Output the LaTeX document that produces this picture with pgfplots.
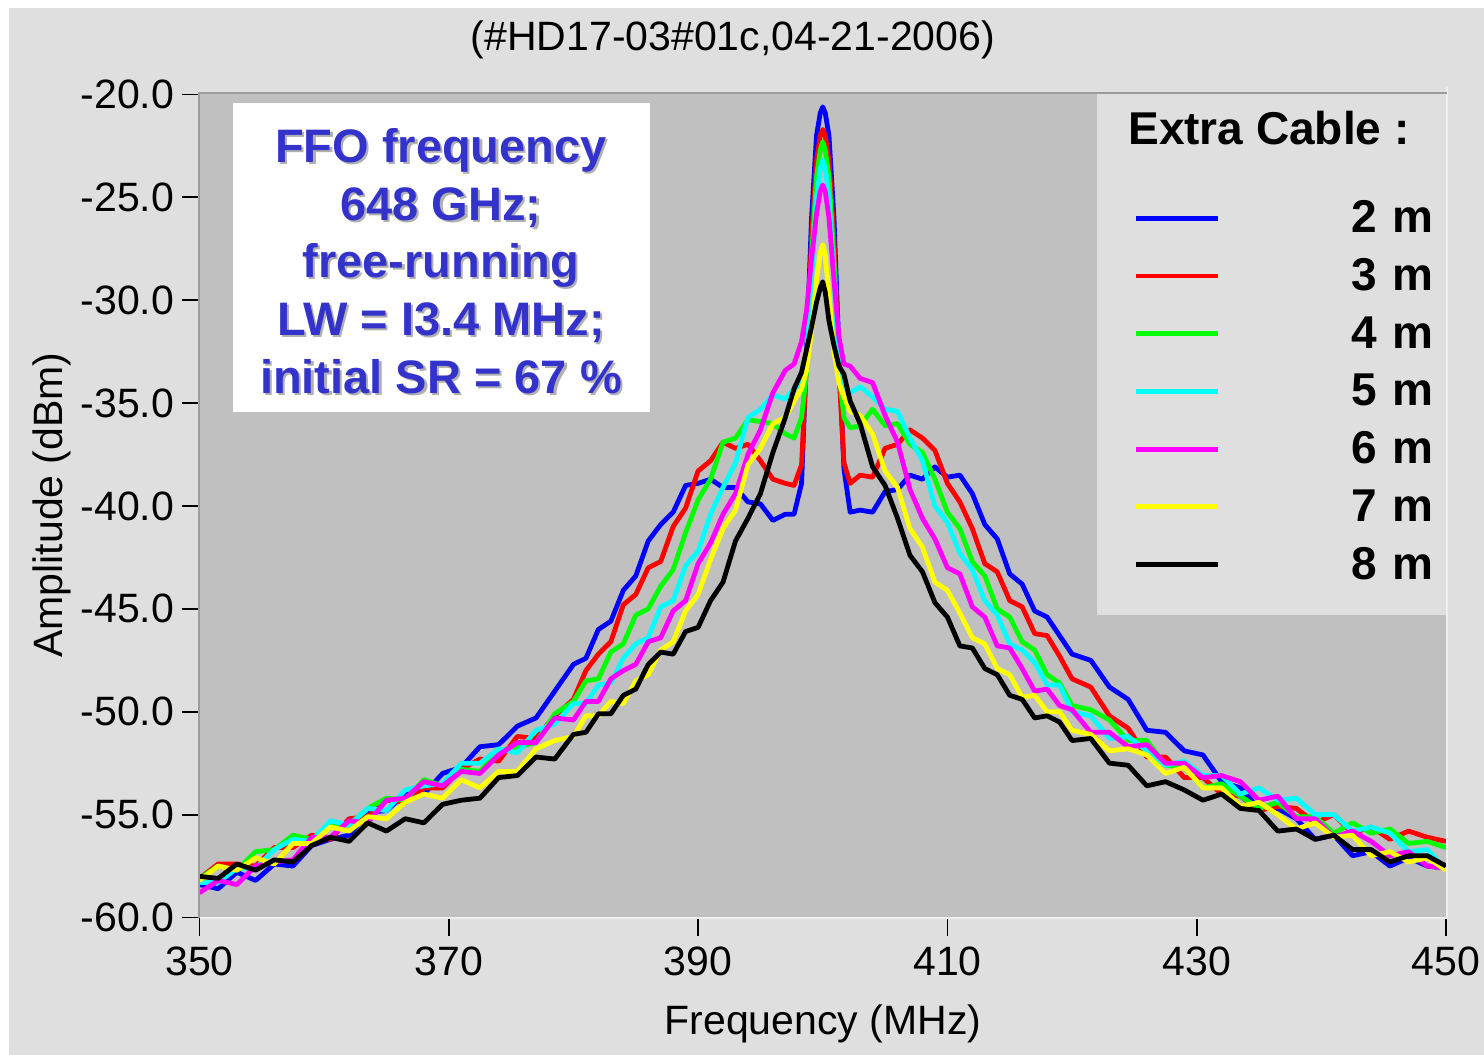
\documentclass[border=0pt]{standalone}
\usepackage{fontspec}
\setmainfont{Liberation Sans}
\usepackage{pgfplots}
\pgfplotsset{compat=1.18}
\definecolor{outerbg}{HTML}{DFDFDF}
\definecolor{plotbg}{HTML}{C0C0C0}
\definecolor{txtblue}{HTML}{3333CC}
\definecolor{shadowgray}{HTML}{B0B0B0}
\definecolor{framedark}{HTML}{9C9C9C}
\definecolor{framelight}{HTML}{EEEEEE}
\definecolor{cBlue}{HTML}{0000FF}
\definecolor{cRed}{HTML}{FF0000}
\definecolor{cGreen}{HTML}{00FF00}
\definecolor{cCyan}{HTML}{00FFFF}
\definecolor{cMagenta}{HTML}{FF00FF}
\definecolor{cYellow}{HTML}{FFFF00}
\definecolor{cBlack}{HTML}{000000}
\begin{document}
\begin{tikzpicture}[x=1pt,y=1pt]
\fill[white] (0,0) rectangle (742,527.5);
\fill[outerbg] (4.5,0) rectangle (742,523.5);
\begin{axis}[
  at={(99.75pt,68.75pt)}, anchor=south west, scale only axis,
  width=623.25pt, height=411.5pt,
  xmin=350, xmax=450, ymin=-60, ymax=-20,
  clip=false,
  axis background/.style={fill=plotbg},
  axis line style={draw=none},
  xtick={350,370,...,450}, ytick={-60,-55,...,-20},
  xtick pos=bottom, ytick pos=left,
  tick align=outside,
  major tick length=9pt,
  tick style={black, line width=0.9pt},
  /pgf/number format/assume math mode=true,
  yticklabel={\pgfmathprintnumber[fixed,fixed zerofill,precision=1]{\tick}},
  xticklabel style={anchor=center, inner sep=0pt, yshift=-13pt, font=\fontsize{20.5}{24}\selectfont},
  yticklabel style={anchor=east, inner sep=0pt, xshift=-3.5pt, font=\fontsize{20.5}{24}\selectfont},
  every axis plot/.append style={line width=2.4pt, line join=round},
  legend style={at={(0.7489,0.885)}, anchor=north west, draw=none, fill=none, inner sep=0pt, row sep=0pt,
    font=\fontsize{23}{23}\selectfont\bfseries,
    nodes={inner sep=0pt, minimum height=28.85pt, text width=106.5pt, align=right}},
  legend cell align=right,
  legend image code/.code={\draw[#1] (0pt,0pt) -- (41pt,0pt);},
]
\fill[outerbg] (rel axis cs:0.7200,0.3678) rectangle (rel axis cs:1.0008,1.0085);
\addplot[cBlue] coordinates {(350,-58.4) (351.5,-58.6) (353,-57.8) (354.5,-58.2) (356,-57.4) (357.5,-57.5) (359,-56.5) (360.5,-56.2) (362,-56.0) (363.5,-54.9) (365,-54.8) (366.5,-54.0) (368,-54.0) (369.5,-53.0) (371,-52.7) (372.5,-51.7) (374,-51.6) (375.5,-50.7) (377,-50.3) (378.5,-49.0) (380,-47.7) (381,-47.4) (382,-46.0) (383,-45.6) (384,-44.1) (385,-43.4) (386,-41.7) (387,-40.9) (388,-40.3) (389,-39.0) (390,-38.9) (391,-38.7) (392,-39.1) (393,-39.1) (394,-39.8) (395,-39.9) (396,-40.7) (397,-40.4) (397.7,-40.4) (398.3,-38.9) (398.7,-32.5) (399.1,-26.0) (399.5,-22.0) (399.8,-20.9) (400,-20.6) (400.2,-20.9) (400.5,-22.0) (400.9,-26.0) (401.3,-32.5) (401.7,-38.2) (402.2,-40.3) (403,-40.2) (404,-40.3) (405,-39.3) (406,-39.2) (407,-38.5) (408,-38.7) (409,-38.1) (410,-38.6) (411,-38.5) (412,-39.4) (413,-40.9) (414,-41.6) (415,-43.3) (416,-43.8) (417,-45.1) (418,-45.4) (419,-46.3) (420,-47.2) (421.5,-47.5) (423,-48.8) (424.5,-49.4) (426,-50.9) (427.5,-51.0) (429,-51.9) (430.5,-52.1) (432,-53.4) (433.5,-53.7) (435,-54.7) (436.5,-54.7) (438,-55.2) (439.5,-56.2) (441,-56.0) (442.5,-57.0) (444,-56.8) (445.5,-57.5) (447,-57.1) (448.5,-57.5) (450,-57.6)};
\addlegendentry{2 m}
\addplot[cRed] coordinates {(350,-58.1) (351.5,-57.4) (353,-57.4) (354.5,-57.5) (356,-56.6) (357.5,-56.6) (359,-56.0) (360.5,-56.2) (362,-55.2) (363.5,-55.1) (365,-54.3) (366.5,-54.4) (368,-53.7) (369.5,-53.7) (371,-52.8) (372.5,-52.3) (374,-52.4) (375.5,-51.2) (377,-51.3) (378.5,-50.2) (380,-49.4) (381,-48.0) (382,-47.2) (383,-46.6) (384,-44.8) (385,-44.3) (386,-43.0) (387,-42.7) (388,-41.0) (389,-40.1) (390,-38.3) (391,-37.8) (392,-36.9) (393,-37.2) (394,-37.0) (395,-37.8) (396,-38.7) (397,-38.9) (397.7,-39.0) (398.3,-38.0) (398.7,-33.0) (399.1,-27.0) (399.5,-23.2) (399.8,-22.0) (400,-21.7) (400.2,-22.0) (400.5,-23.2) (400.9,-27.0) (401.3,-33.5) (401.7,-37.9) (402.2,-38.9) (403,-38.5) (404,-38.6) (405,-37.2) (406,-37.0) (407,-36.3) (408,-36.7) (409,-37.3) (410,-38.9) (411,-39.8) (412,-41.1) (413,-42.8) (414,-43.2) (415,-44.6) (416,-44.9) (417,-46.2) (418,-46.3) (419,-47.3) (420,-48.4) (421.5,-48.8) (423,-50.2) (424.5,-50.8) (426,-52.2) (427.5,-52.2) (429,-53.2) (430.5,-53.2) (432,-54.0) (433.5,-54.1) (435,-54.8) (436.5,-54.6) (438,-54.7) (439.5,-55.4) (441,-55.0) (442.5,-55.9) (444,-55.6) (445.5,-56.2) (447,-55.8) (448.5,-56.1) (450,-56.3)};
\addlegendentry{3 m}
\addplot[cGreen] coordinates {(350,-58.1) (351.5,-57.5) (353,-57.7) (354.5,-56.8) (356,-56.7) (357.5,-56.0) (359,-56.2) (360.5,-55.5) (362,-55.5) (363.5,-54.7) (365,-54.2) (366.5,-54.3) (368,-53.3) (369.5,-53.6) (371,-52.8) (372.5,-52.9) (374,-51.9) (375.5,-51.7) (377,-51.5) (378.5,-50.1) (380,-49.5) (381,-48.5) (382,-48.4) (383,-47.1) (384,-46.7) (385,-45.3) (386,-45.0) (387,-43.9) (388,-43.1) (389,-41.3) (390,-39.7) (391,-38.7) (392,-36.9) (393,-36.7) (394,-35.8) (395,-35.9) (396,-36.0) (397,-36.5) (397.7,-36.7) (398.3,-35.7) (398.7,-33.5) (399.1,-28.0) (399.5,-24.0) (399.8,-22.7) (400,-22.3) (400.2,-22.7) (400.5,-24.0) (400.9,-28.0) (401.3,-33.5) (401.7,-35.7) (402.2,-36.2) (403,-36.1) (404,-35.3) (405,-36.1) (406,-36.0) (407,-37.0) (408,-37.4) (409,-38.7) (410,-40.3) (411,-41.1) (412,-42.7) (413,-43.4) (414,-45.0) (415,-45.4) (416,-46.6) (417,-47.0) (418,-48.2) (419,-48.6) (420,-49.7) (421.5,-49.9) (423,-50.4) (424.5,-51.4) (426,-51.4) (427.5,-52.6) (429,-52.7) (430.5,-53.7) (432,-53.5) (433.5,-54.1) (435,-54.7) (436.5,-54.4) (438,-55.1) (439.5,-55.1) (441,-55.9) (442.5,-55.4) (444,-55.9) (445.5,-55.7) (447,-56.4) (448.5,-56.3) (450,-56.6)};
\addlegendentry{4 m}
\addplot[cCyan] coordinates {(350,-58.3) (351.5,-58.3) (353,-57.6) (354.5,-57.6) (356,-56.7) (357.5,-56.2) (359,-56.3) (360.5,-55.3) (362,-55.5) (363.5,-54.7) (365,-54.8) (366.5,-53.8) (368,-53.6) (369.5,-53.5) (371,-52.5) (372.5,-52.5) (374,-51.8) (375.5,-52.0) (377,-50.9) (378.5,-50.6) (380,-49.6) (381,-49.6) (382,-48.7) (383,-48.6) (384,-47.4) (385,-46.7) (386,-46.4) (387,-44.9) (388,-44.6) (389,-42.9) (390,-42.2) (391,-40.4) (392,-39.1) (393,-37.9) (394,-35.7) (395,-35.3) (396,-34.6) (397,-34.8) (397.7,-34.3) (398.3,-34.0) (398.7,-32.8) (399.1,-29.0) (399.5,-25.0) (399.8,-23.6) (400,-23.2) (400.2,-23.6) (400.5,-25.0) (400.9,-29.0) (401.3,-33.2) (401.7,-34.1) (402.2,-34.5) (403,-34.2) (404,-34.7) (405,-35.3) (406,-35.4) (407,-36.7) (408,-37.8) (409,-40.0) (410,-40.8) (411,-42.3) (412,-43.1) (413,-44.6) (414,-45.3) (415,-46.7) (416,-47.0) (417,-47.6) (418,-48.7) (419,-48.7) (420,-50.0) (421.5,-50.2) (423,-51.3) (424.5,-51.2) (426,-51.9) (427.5,-52.6) (429,-52.4) (430.5,-53.1) (432,-53.1) (433.5,-54.0) (435,-53.7) (436.5,-54.3) (438,-54.2) (439.5,-55.0) (441,-55.0) (442.5,-55.8) (444,-55.6) (445.5,-55.9) (447,-56.8) (448.5,-56.7) (450,-57.7)};
\addlegendentry{5 m}
\addplot[cMagenta] coordinates {(350,-58.8) (351.5,-58.2) (353,-58.4) (354.5,-57.5) (356,-57.3) (357.5,-57.2) (359,-56.1) (360.5,-56.1) (362,-55.3) (363.5,-55.4) (365,-54.3) (366.5,-54.2) (368,-53.4) (369.5,-53.6) (371,-52.9) (372.5,-53.0) (374,-52.1) (375.5,-51.5) (377,-51.5) (378.5,-50.3) (380,-50.4) (381,-49.5) (382,-49.5) (383,-48.4) (384,-48.0) (385,-47.7) (386,-46.6) (387,-46.4) (388,-45.1) (389,-44.6) (390,-42.8) (391,-41.8) (392,-40.4) (393,-39.4) (394,-37.5) (395,-36.3) (396,-34.5) (397,-33.4) (397.7,-33.1) (398.3,-32.0) (398.7,-30.5) (399.1,-28.0) (399.5,-25.8) (399.8,-24.7) (400,-24.4) (400.2,-24.7) (400.5,-26.0) (400.9,-29.0) (401.3,-31.8) (401.7,-33.1) (402.2,-33.2) (403,-33.8) (404,-34.0) (405,-35.6) (406,-36.9) (407,-39.2) (408,-40.6) (409,-41.6) (410,-43.0) (411,-43.3) (412,-44.9) (413,-45.4) (414,-46.8) (415,-46.9) (416,-47.9) (417,-49.0) (418,-48.9) (419,-49.7) (420,-49.9) (421.5,-51.0) (423,-51.0) (424.5,-51.7) (426,-51.6) (427.5,-52.5) (429,-52.5) (430.5,-53.2) (432,-53.1) (433.5,-53.4) (435,-54.3) (436.5,-54.1) (438,-55.2) (439.5,-55.2) (441,-56.1) (442.5,-55.8) (444,-56.3) (445.5,-57.0) (447,-56.8) (448.5,-57.5) (450,-57.6)};
\addlegendentry{6 m}
\addplot[cYellow] coordinates {(350,-58.2) (351.5,-57.5) (353,-57.7) (354.5,-57.1) (356,-57.4) (357.5,-56.4) (359,-56.4) (360.5,-55.6) (362,-55.8) (363.5,-55.1) (365,-55.2) (366.5,-54.4) (368,-54.0) (369.5,-54.2) (371,-53.3) (372.5,-53.7) (374,-52.9) (375.5,-52.9) (377,-51.8) (378.5,-51.4) (380,-51.2) (381,-50.2) (382,-50.2) (383,-49.5) (384,-49.6) (385,-48.5) (386,-48.2) (387,-47.0) (388,-46.6) (389,-45.1) (390,-44.3) (391,-42.6) (392,-41.1) (393,-40.2) (394,-38.0) (395,-37.2) (396,-36.0) (397,-35.7) (397.7,-34.9) (398.3,-34.3) (398.7,-33.4) (399.1,-31.5) (399.5,-29.0) (399.8,-27.7) (400,-27.3) (400.2,-27.8) (400.5,-29.8) (400.9,-32.5) (401.3,-34.0) (401.7,-34.7) (402.2,-35.4) (403,-35.6) (404,-36.5) (405,-38.3) (406,-39.1) (407,-41.1) (408,-42.0) (409,-43.7) (410,-44.1) (411,-45.2) (412,-46.4) (413,-46.7) (414,-47.9) (415,-48.2) (416,-49.3) (417,-49.2) (418,-50.0) (419,-50.0) (420,-50.9) (421.5,-51.1) (423,-51.9) (424.5,-51.8) (426,-52.1) (427.5,-53.0) (429,-52.7) (430.5,-53.7) (432,-53.7) (433.5,-54.6) (435,-54.4) (436.5,-55.0) (438,-55.7) (439.5,-55.4) (441,-56.1) (442.5,-56.0) (444,-57.0) (445.5,-56.8) (447,-57.3) (448.5,-57.1) (450,-57.7)};
\addlegendentry{7 m}
\addplot[cBlack] coordinates {(350,-58.0) (351.5,-58.1) (353,-57.4) (354.5,-57.7) (356,-57.2) (357.5,-57.3) (359,-56.5) (360.5,-56.1) (362,-56.3) (363.5,-55.4) (365,-55.8) (366.5,-55.2) (368,-55.4) (369.5,-54.5) (371,-54.3) (372.5,-54.2) (374,-53.2) (375.5,-53.1) (377,-52.2) (378.5,-52.3) (380,-51.1) (381,-51.0) (382,-50.1) (383,-50.1) (384,-49.2) (385,-48.9) (386,-47.7) (387,-47.1) (388,-47.2) (389,-46.1) (390,-45.9) (391,-44.6) (392,-43.7) (393,-41.7) (394,-40.6) (395,-39.4) (396,-37.4) (397,-35.7) (397.7,-34.3) (398.3,-33.5) (398.7,-32.4) (399.1,-31.3) (399.5,-30.1) (399.8,-29.4) (400,-29.1) (400.2,-29.6) (400.5,-31.0) (400.9,-32.2) (401.3,-33.2) (401.7,-33.6) (402.2,-34.9) (403,-36.0) (404,-38.1) (405,-39.0) (406,-40.6) (407,-42.4) (408,-43.2) (409,-44.7) (410,-45.4) (411,-46.8) (412,-46.9) (413,-47.9) (414,-48.2) (415,-49.2) (416,-49.4) (417,-50.3) (418,-50.2) (419,-50.5) (420,-51.4) (421.5,-51.3) (423,-52.5) (424.5,-52.6) (426,-53.6) (427.5,-53.4) (429,-53.8) (430.5,-54.3) (432,-54.0) (433.5,-54.7) (435,-54.8) (436.5,-55.8) (438,-55.7) (439.5,-56.2) (441,-56.0) (442.5,-56.7) (444,-56.7) (445.5,-57.3) (447,-57.0) (448.5,-57.0) (450,-57.5)};
\addlegendentry{8 m}
\draw[framelight, line width=1pt] ([yshift=-0.5pt]rel axis cs:0,0) -- ([xshift=0.5pt,yshift=-0.5pt]rel axis cs:1,0) -- ([xshift=0.5pt]rel axis cs:1,1.0085);
\draw[framedark, line width=1pt] ([xshift=-0.5pt,yshift=-0.5pt]rel axis cs:0,0) -- ([xshift=-0.5pt,yshift=0.5pt]rel axis cs:0,1) -- ([yshift=0.5pt]rel axis cs:1.0008,1);
\end{axis}
% title and axis labels
\node[anchor=base, font=\fontsize{20.5}{24}\selectfont] at (366.5,502.2) {(\#HD17-03\#01c,04-21-2006)};
\node[anchor=base, font=\fontsize{20.5}{24}\selectfont] at (411.5,10.2) {Frequency (MHz)};
\node[anchor=base, rotate=90, font=\fontsize{20.5}{24}\selectfont] at (31.3,275) {Amplitude (dBm)};
% legend title
\node[anchor=west, inner sep=0pt, font=\fontsize{23}{23}\selectfont\bfseries] at (564,463.5) {Extra Cable :};
% annotation box
\fill[white] (116.5,321.5) rectangle (325,476);
\node[align=center, text=shadowgray, font=\fontsize{23.5}{28.85}\selectfont\bfseries] at (221.6,395.9) {FFO frequency\\648 GHz;\\free-running\\LW = I3.4 MHz;\\initial SR = 67 \%};
\node[align=center, text=txtblue, font=\fontsize{23.5}{28.85}\selectfont\bfseries] at (220.5,397) {FFO frequency\\648 GHz;\\free-running\\LW = I3.4 MHz;\\initial SR = 67 \%};
\pgfresetboundingbox
\path (0,0) rectangle (742,527.5);
\end{tikzpicture}
\end{document}
